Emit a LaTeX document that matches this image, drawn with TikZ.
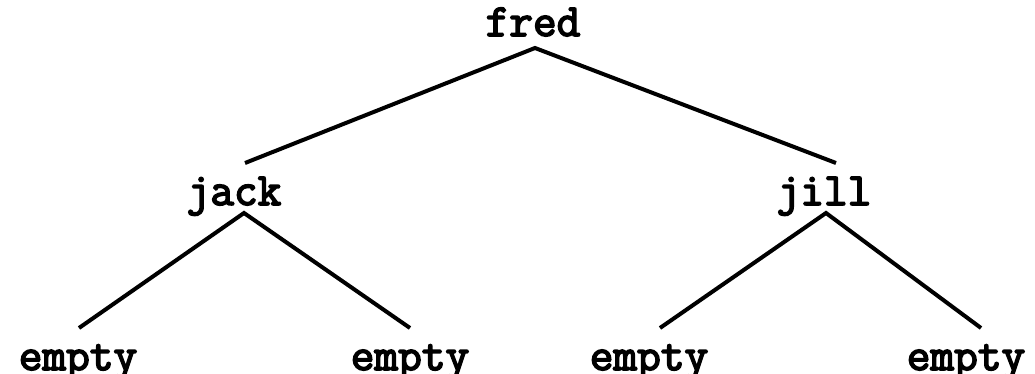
\documentclass[tikz,border=0pt]{standalone}
\usepackage{fontspec}
\setmonofont{Latin Modern Mono}[BoldFont={Latin Modern Mono}, BoldFeatures={FakeBold=3.5}]
\usetikzlibrary{positioning}

\begin{document}
\begin{tikzpicture}[x=1pt, y=-1pt,
  word/.style={font=\fontsize{46}{46}\selectfont\ttfamily\bfseries, anchor=base, inner sep=0pt},
  edge/.style={line width=4pt}]
\useasboundingbox (0,0) rectangle (1035,374);
% names
\node[word] (fred) at (533,36) {fred};
\node[word] (jack) at (234,205) {jack};
\node[word] (jill) at (824,205) {jill};
\node[word] (e1) at (78,370) {empty};
\node[word] (e2) at (410,370) {empty};
\node[word] (e3) at (649,370) {empty};
\node[word] (e4) at (966,370) {empty};
% branches
\draw[edge] ([xshift=11pt]jack.base) ++(0,42pt) -- ([xshift=2pt,yshift=-12pt]fred.base)
  -- ([xshift=12pt,yshift=42pt]jill.base);
\draw[edge] ([xshift=1pt,yshift=42pt]e1.base) -- ([xshift=10pt,yshift=-8pt]jack.base)
  -- ([yshift=42pt]e2.base);
\draw[edge] ([xshift=11pt,yshift=42pt]e3.base) -- ([xshift=2pt,yshift=-8pt]jill.base)
  -- ([xshift=15pt,yshift=42pt]e4.base);
\end{tikzpicture}
\end{document}
